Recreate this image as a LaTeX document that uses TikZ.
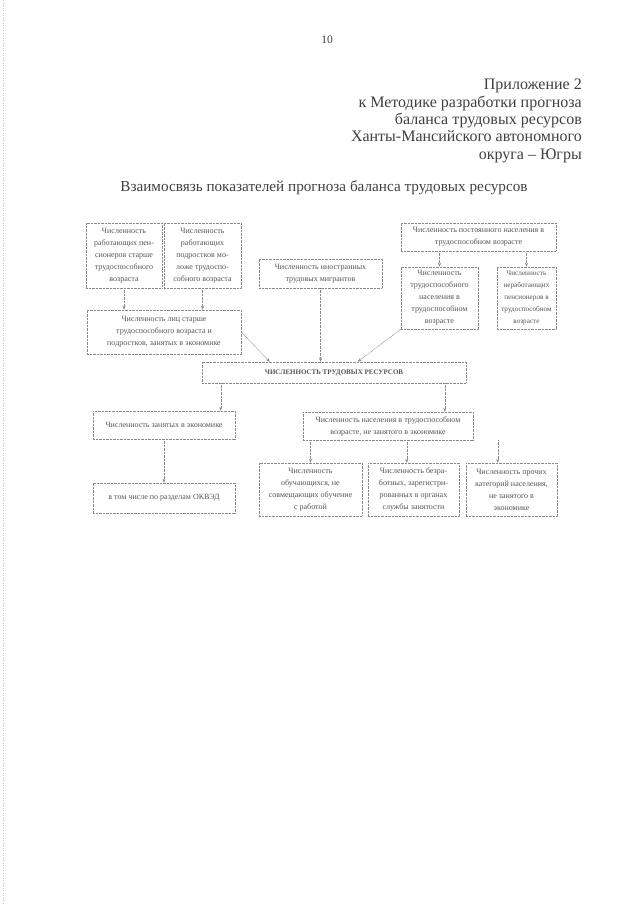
\documentclass[tikz,border=0pt]{standalone}
\usepackage{fontspec}
\setmainfont{Liberation Serif}
\usetikzlibrary{arrows.meta}
\definecolor{boxgray}{HTML}{8A8A8A}
\definecolor{txtgray}{HTML}{555555}
\definecolor{headgray}{HTML}{404040}
\begin{document}
\begin{tikzpicture}[x=1pt,y=-1pt,
  bx/.style={draw=boxgray, dash pattern=on 0.8pt off 0.6pt, line width=0.5pt,
    align=center, inner sep=1pt, text=txtgray, font=\fontsize{8}{12}\selectfont},
  arr/.style={draw=boxgray, dash pattern=on 0.8pt off 0.6pt, line width=0.5pt,
    -{Stealth[length=4pt,width=3pt]}},
  head/.style={text=headgray, inner sep=0pt}]
\useasboundingbox (0,0) rectangle (640,905);
\fill[white] (0,0) rectangle (640,905);
\draw[boxgray!50, dash pattern=on 1pt off 1.5pt, line width=0.4pt] (3,0) -- (3,905);

% header
\node[head, font=\fontsize{11.5}{13}\selectfont] (pg) at (327,40) {10};
\node[head, anchor=north east, align=right, font=\fontsize{16}{17.4}\selectfont] (app) at (582,79)
  {Приложение 2\\к Методике разработки прогноза\\баланса трудовых ресурсов\\Ханты-Мансийского автономного\\округа – Югры};
\node[head, font=\fontsize{15.2}{17}\selectfont] (title) at (324,188)
  {Взаимосвязь показателей прогноза баланса трудовых ресурсов};

% boxes
\node[bx, minimum width=76pt, minimum height=65pt] (b1) at (124,255.5)
  {Численность\\работающих пен-\\сионеров старше\\трудоспособного\\возраста};
\node[bx, minimum width=77pt, minimum height=65pt] (b2) at (202.5,255.5)
  {Численность\\работающих\\подростков мо-\\ложе трудоспо-\\собного возраста};
\node[bx, minimum width=123pt, minimum height=29pt] (b3) at (320.5,273.5)
  {Численность иностранных\\трудовых мигрантов};
\node[bx, minimum width=155pt, minimum height=28pt] (b4) at (478.5,237)
  {Численность постоянного населения в\\трудоспособном возрасте};
\node[bx, minimum width=77pt, minimum height=62pt] (b5) at (439.5,298)
  {Численность\\трудоспособного\\населения в\\трудоспособном\\возрасте};
\node[bx, minimum width=59pt, minimum height=62pt, font=\fontsize{7.2}{12}\selectfont] (b6) at (526.5,298)
  {Численность\\неработающих\\пенсионеров в\\трудоспособном\\возрасте};
\node[bx, minimum width=154pt, minimum height=44pt] (b7) at (164,332)
  {Численность лиц старше\\трудоспособного возраста и\\подростков, занятых в экономике};
\node[bx, minimum width=264pt, minimum height=21pt, font=\fontsize{7}{9}\selectfont\bfseries] (b8) at (334,372.5)
  {ЧИСЛЕННОСТЬ ТРУДОВЫХ РЕСУРСОВ};
\node[bx, minimum width=142pt, minimum height=28pt] (b9) at (164,425)
  {Численность занятых в экономике};
\node[bx, minimum width=142pt, minimum height=30pt] (b10) at (164,498)
  {в том числе по разделам ОКВЭД};
\node[bx, minimum width=170pt, minimum height=28pt] (b11) at (388,426)
  {Численность населения в трудоспособном\\возрасте, не занятого в экономике};
\node[bx, minimum width=103pt, minimum height=53pt] (b12) at (310.5,489.5)
  {Численность\\обучающихся, не\\совмещающих обучение\\с работой};
\node[bx, minimum width=91pt, minimum height=53pt] (b13) at (413.5,489.5)
  {Численность безра-\\ботных, зарегистри-\\рованных в органах\\службы занятости};
\node[bx, minimum width=91pt, minimum height=53pt] (b14) at (511.5,489.5)
  {Численность прочих\\категорий населения,\\не занятого в\\экономике};

% helper coordinates
\coordinate (t7a) at ([xshift=68pt]b8.north west);
\coordinate (t5a) at ([xshift=156pt]b8.north west);
\coordinate (p9) at ([xshift=128pt]b9.north west);
\coordinate (p11) at ([xshift=142pt]b11.north west);
\coordinate (p13) at ([xshift=39pt]b13.north west);
\coordinate (p14) at ([xshift=32pt]b14.north west);

% connectors
\draw[arr] (b1.south) -- (b1.south |- b7.north);
\draw[arr] (b2.south) -- (b2.south |- b7.north);
\draw[arr] (b5.north |- b4.south) -- (b5.north);
\draw[arr] (b6.north |- b4.south) -- (b6.north);
\draw[arr] (b7.east) -- (t7a);
\draw[arr] (b3.south) -- (b3.south |- b8.north);
\draw[arr] (b5.south west) -- (t5a);
\draw[arr] (p9 |- b8.south) -- (p9);
\draw[arr] (p11 |- b8.south) -- (p11);
\draw[arr] (b9.south) -- (b10.north);
\draw[arr] (b12.north |- b11.south) -- (b12.north);
\draw[arr] (p13 |- b11.south) -- (p13);
\draw[arr] (p14 |- b11.south) -- (p14);
\end{tikzpicture}
\end{document}
